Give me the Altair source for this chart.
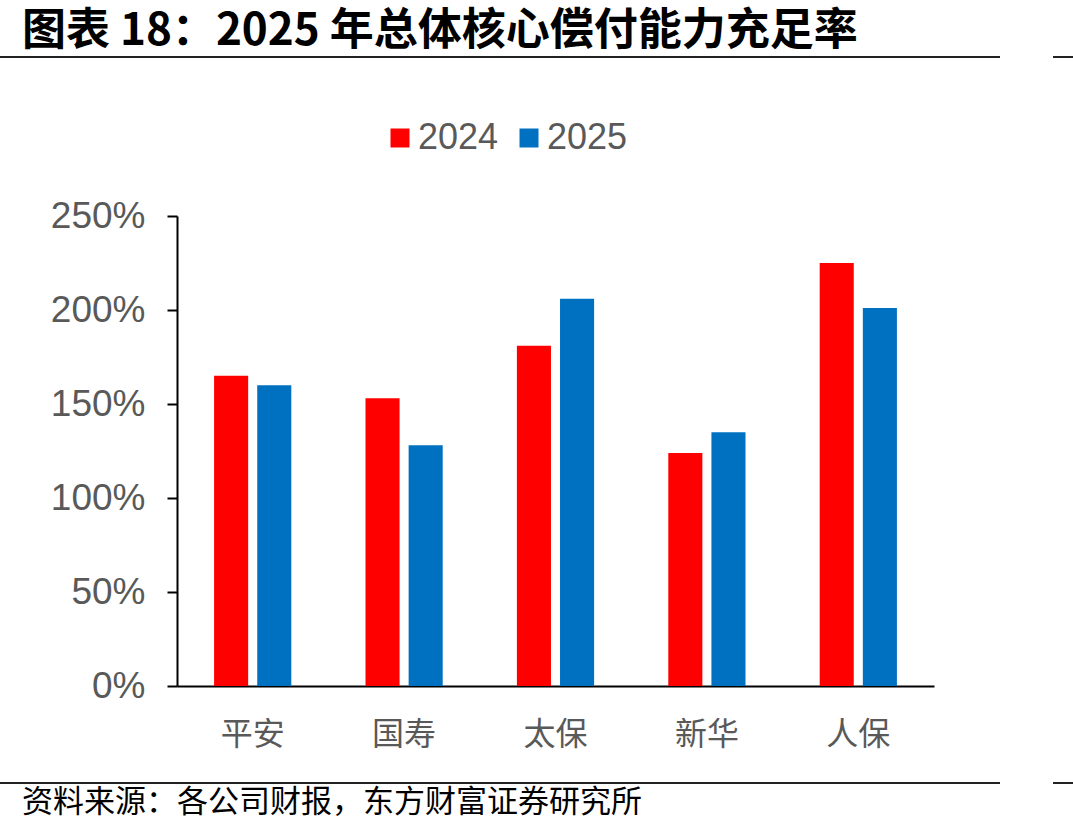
import altair as alt
import pandas as pd

companies = ["平安", "国寿", "太保", "新华", "人保"]
years = ["2024", "2025"]
ratio_2024 = [165, 153, 181, 124, 225]
ratio_2025 = [160, 128, 206, 135, 201]

rows = []
for i, c in enumerate(companies):
    rows.append({"company": c, "year": "2024", "ratio": ratio_2024[i] / 100})
    rows.append({"company": c, "year": "2025", "ratio": ratio_2025[i] / 100})
df = pd.DataFrame(rows)

W, H = 757, 470
LEFT, TOP = 177, 216

bars = alt.Chart(df).mark_bar().encode(
    x=alt.X("company:N", sort=companies, title=None,
            scale=alt.Scale(paddingInner=0.49, paddingOuter=0.245),
            axis=alt.Axis(labelAngle=0, labelFont="Noto Sans CJK SC", labelFontSize=32,
                          labelColor="#595959", labelPadding=33, ticks=False,
                          domainColor="black", domainWidth=2, grid=False)),
    xOffset=alt.XOffset("year:N", sort=years, scale=alt.Scale(paddingInner=0.21, paddingOuter=0)),
    y=alt.Y("ratio:Q", title=None,
            scale=alt.Scale(domain=[0, 2.5]),
            axis=alt.Axis(format=".0%", values=[0, 0.5, 1, 1.5, 2, 2.5],
                          labelFont="Liberation Sans", labelFontSize=37, labelColor="#595959",
                          labelPadding=22, tickSize=10, tickColor="black", tickWidth=2,
                          domainColor="black", domainWidth=2, grid=False)),
    color=alt.Color("year:N", sort=years,
                    scale=alt.Scale(domain=years, range=["#FF0000", "#0070C0"]),
                    legend=alt.Legend(title=None, orient="none", direction="horizontal",
                                      legendX=205, legendY=-96,
                                      symbolType="square", symbolSize=361,
                                      symbolStrokeWidth=0, labelFont="Liberation Sans",
                                      labelFontSize=36, labelColor="#595959",
                                      labelOffset=0, columnPadding=12, padding=0)),
)

one = pd.DataFrame({"k": [0]})

title = alt.Chart(one).mark_text(
    text="图表 18：2025 年总体核心偿付能力充足率", font="Noto Sans CJK SC", fontWeight="bold",
    fontSize=44, align="left", baseline="middle", color="black"
).encode(x=alt.value(22 - LEFT), y=alt.value(32 - TOP))

source = alt.Chart(one).mark_text(
    text="资料来源：各公司财报，东方财富证券研究所", font="Noto Sans CJK SC",
    fontSize=31, align="left", baseline="middle", color="black"
).encode(x=alt.value(22 - LEFT), y=alt.value(803 - TOP))

def hline(x1, x2, y):
    return alt.Chart(one).mark_rule(color="#222222", strokeWidth=2).encode(
        x=alt.value(x1 - LEFT), x2=alt.value(x2 - LEFT), y=alt.value(y - TOP))

lines = [hline(0, 1000, 57), hline(1053, 1073, 57), hline(0, 1000, 783), hline(1053, 1073, 783)]

chart = alt.layer(bars, title, source, *lines).properties(
    width=W, height=H,
    autosize=alt.AutoSizeParams(type="none"),
    padding={"left": LEFT, "top": TOP, "right": 1073 - LEFT - W, "bottom": 836 - TOP - H},
).configure(background="white").configure_view(stroke=None)

chart.save("out.html", embed_options={"renderer": "svg", "actions": False})
